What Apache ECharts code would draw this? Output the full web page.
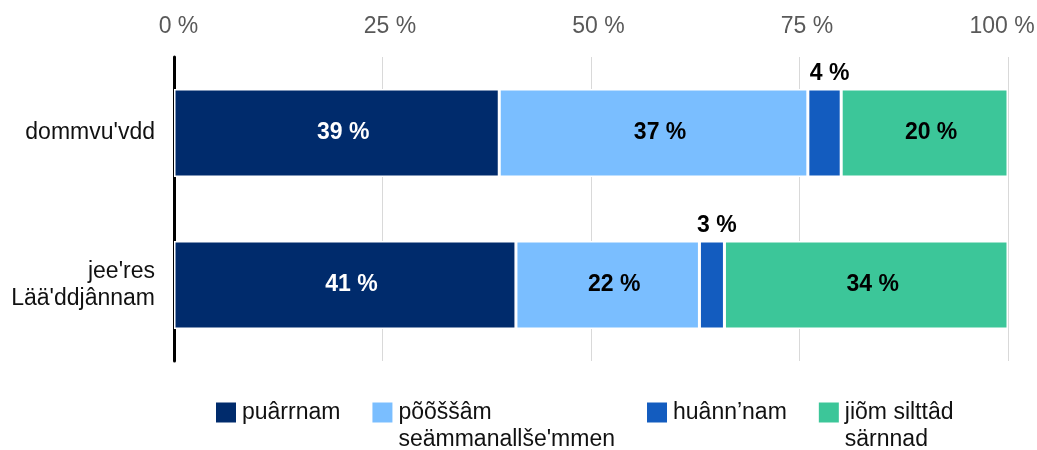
<!DOCTYPE html>
<html><head><meta charset="utf-8">
<script src="https://cdn.jsdelivr.net/npm/echarts@6/dist/echarts.min.js"></script>
<style>html,body{margin:0;padding:0;background:#fff}#c{width:1037px;height:450px}</style>
</head><body><div id="c"></div>
<script>
const categories = ["dommvu'vdd", "jee'res\nLää'ddjânnam"];
const seriesNames = ["puârrnam", "põõššâm\nseämmanallše'mmen", "huânn’nam", "jiõm silttâd\nsärnnad"];
const values_puarrnam = [39, 41];
const values_poossam = [37, 22];
const values_huannam = [4, 3];
const values_jiom = [20, 34];
const tickLabels = ["0 %", "25 %", "50 %", "75 %", "100 %"];
const colors = ["#002B6C", "#7ABEFF", "#135CBF", "#3CC699"];
const labelColors = ["#fff", "#000", "#000", "#000"];

const FONT = "Liberation Sans, Arial, sans-serif";
const allValues = [values_puarrnam, values_poossam, values_huannam, values_jiom];

const series = seriesNames.map((name, i) => ({
  name: name,
  type: 'bar',
  stack: 'total',
  barCategoryGap: '42%',
  itemStyle: { color: colors[i], borderColor: '#fff', borderWidth: 1.5 },
  data: allValues[i].map(v => {
    const small = v < 8;
    return {
      value: v,
      label: {
        show: true,
        position: small ? 'top' : 'inside',
        distance: 4,
        padding: small ? [0, 0, 0, 10] : [0, 0, 0, 13],
        color: small ? '#000' : labelColors[i],
        fontWeight: 'bold',
        fontSize: 23,
        fontFamily: FONT,
        formatter: '{c} %'
      }
    };
  })
}));

const tickStyle = { color: '#595959', fontSize: 23, fontFamily: FONT };
const chart = echarts.init(document.getElementById('c'), null, {renderer: 'canvas'});
chart.setOption({
  animation: false,
  backgroundColor: '#fff',
  grid: { left: 174, right: 29, top: 57, bottom: 89, containLabel: false, outerBoundsMode: 'none' },
  xAxis: {
    type: 'value', position: 'top', min: 0, max: 100, interval: 25,
    axisLine: { show: false }, axisTick: { show: false },
    splitLine: { show: true, lineStyle: { color: '#d9d9d9', width: 1 } },
    axisLabel: {
      color: '#595959', fontSize: 23, fontFamily: FONT, margin: 19,
      formatter: v => {
        const idx = Math.round(v / 25);
        const key = idx === 0 ? 'z' : (idx === tickLabels.length - 1 ? 'e' : 'm');
        return '{' + key + '|' + tickLabels[idx] + '}';
      },
      rich: {
        z: Object.assign({ padding: [0, 0, 0, 9] }, tickStyle),
        m: Object.assign({ padding: [0, 0, 0, 15] }, tickStyle),
        e: Object.assign({ padding: [0, 12, 0, 0] }, tickStyle)
      }
    }
  },
  yAxis: {
    type: 'category', inverse: true, data: categories,
    axisLine: { show: true, lineStyle: { color: '#000', width: 3 } },
    axisTick: { show: false },
    axisLabel: { color: '#111', fontSize: 23, fontFamily: FONT, margin: 19, lineHeight: 27, align: 'right' }
  },
  legend: {
    left: 209, top: 367, orient: 'horizontal', itemGap: 30,
    icon: 'rect', itemWidth: 22, itemHeight: 22,
    textStyle: { color: '#111', fontSize: 23, fontFamily: FONT, lineHeight: 27 },
    formatter: n => (n.indexOf('\n') >= 0 ? '\n' + n : n),
    data: seriesNames
  },
  series: series
});
</script></body></html>
